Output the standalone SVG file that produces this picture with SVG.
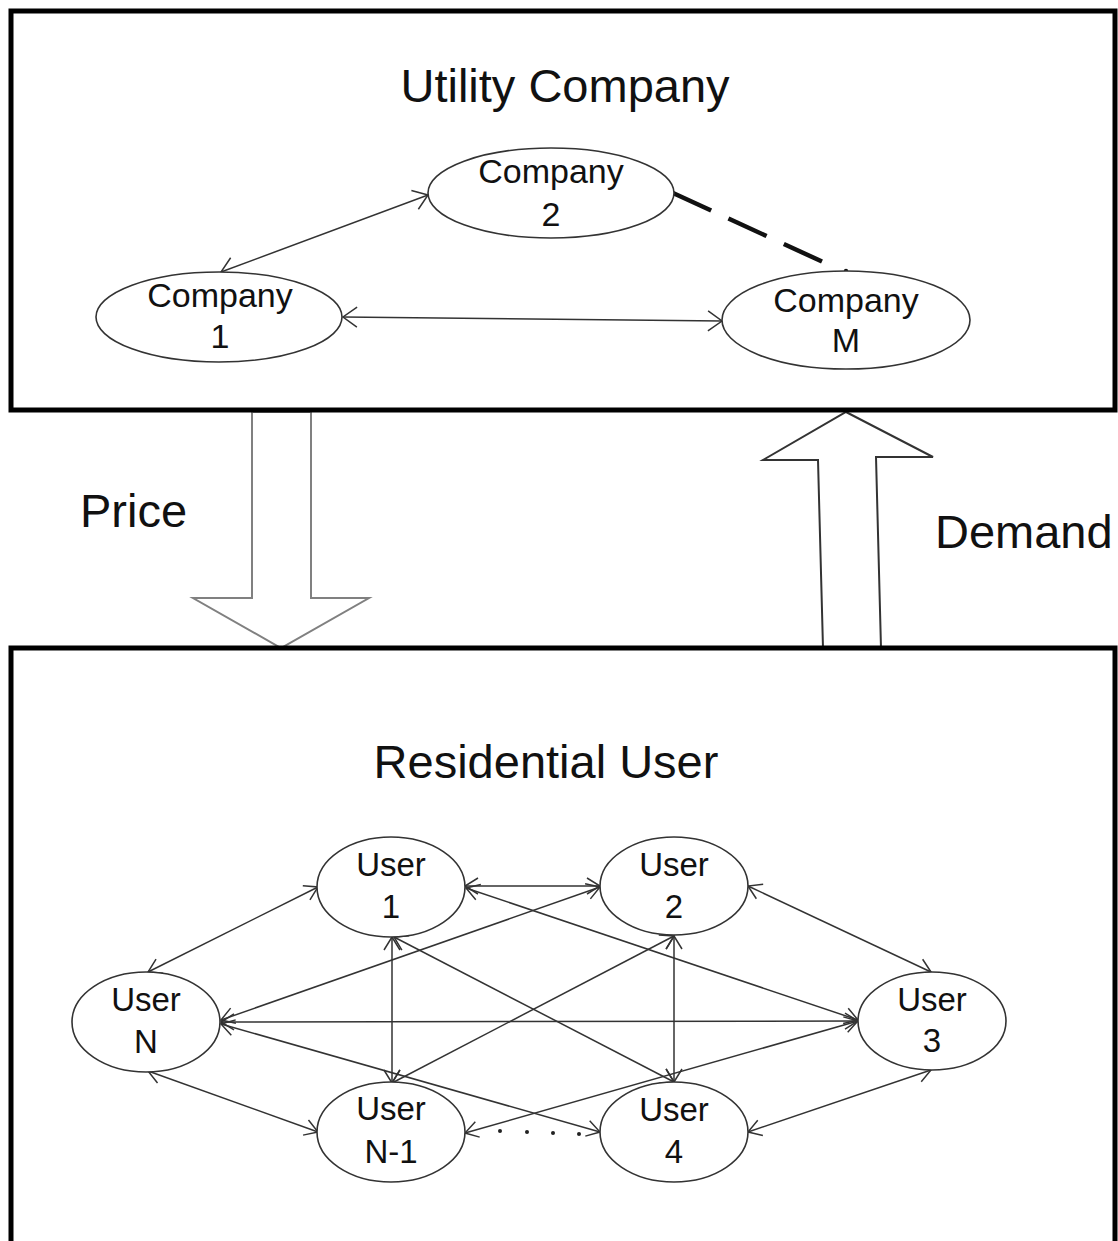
<svg xmlns="http://www.w3.org/2000/svg" width="1118" height="1241" viewBox="0 0 1118 1241">
  <style>
    .frame { fill: none; stroke: #000; stroke-width: 5; }
    .node { fill: #fff; stroke: #333; stroke-width: 1.6; }
    .label { font-family: "Liberation Sans", Arial, sans-serif; fill: #111; text-anchor: middle; }
    .clabel { font-size: 34px; }
    .ulabel { font-size: 33px; }
    .title { font-family: "Liberation Sans", Arial, sans-serif; fill: #111; font-size: 47px; }
    .link { fill: none; stroke: #333; stroke-width: 1.5; }
    .clink { marker-start: url(#headC); marker-end: url(#headC); }
    .ulink { marker-start: url(#headU); marker-end: url(#headU); }
  </style>
  <defs>
    <marker id="headC" markerUnits="userSpaceOnUse" orient="auto-start-reverse" viewBox="-16 -12 18 24" refX="0" refY="0" markerWidth="18" markerHeight="24">
      <path d="M-14,-10 L0,0 L-14,10" fill="none" stroke="#333" stroke-width="1.5"/>
    </marker>
    <marker id="headU" markerUnits="userSpaceOnUse" orient="auto-start-reverse" viewBox="-16 -12 18 24" refX="0" refY="0" markerWidth="18" markerHeight="24">
      <path d="M-13,-8 L0,0 L-13,8" fill="none" stroke="#333" stroke-width="1.5"/>
    </marker>
  </defs>

  <rect width="1118" height="1241" fill="#fff"/>

  <!-- flow arrows between the two layers -->
  <g id="price-arrow">
    <polygon points="252,412 252,598 193,598 281,648 369,598 311,598 311,412" fill="#fff" stroke="#808080" stroke-width="2"/>
  </g>
  <g id="demand-arrow">
    <polygon points="823,648 818,460 763,460 846,412 933,457 876,457 881,648" fill="#fff" stroke="#333" stroke-width="2"/>
  </g>

  <!-- layer frames -->
  <rect id="utility-frame" class="frame" x="11" y="11" width="1104" height="399"/>
  <path id="residential-frame" class="frame" d="M11,1250 V648 H1115 V1250"/>

  <text class="title" x="565" y="102" text-anchor="middle">Utility Company</text>
  <text class="title" x="546" y="778" text-anchor="middle">Residential User</text>
  <text class="title" x="80" y="527">Price</text>
  <text class="title" x="935" y="548">Demand</text>

  <!-- connectors -->
  <g id="connectors">
    <line class="link clink" x1="221" y1="272" x2="428" y2="195"/>
    <line class="link clink" x1="343" y1="317" x2="722" y2="321"/>
    <line x1="673" y1="193" x2="823" y2="262" stroke="#111" stroke-width="4.5" stroke-dasharray="42 19"/>
    <circle cx="846" cy="271" r="2.2" fill="#111"/>

    <line class="link ulink" x1="148" y1="972" x2="318" y2="887"/>
    <line class="link ulink" x1="148" y1="1071" x2="318" y2="1132"/>
    <line class="link ulink" x1="221" y1="1020" x2="600" y2="887"/>
    <line class="link ulink" x1="221" y1="1022" x2="858" y2="1021"/>
    <line class="link ulink" x1="221" y1="1024" x2="600" y2="1132"/>
    <line class="link ulink" x1="465" y1="886" x2="600" y2="886"/>
    <line class="link ulink" x1="466" y1="888" x2="858" y2="1020"/>
    <line class="link ulink" x1="392" y1="937" x2="392" y2="1083"/>
    <line class="link ulink" x1="394" y1="937" x2="674" y2="1082"/>
    <line class="link ulink" x1="674" y1="936" x2="674" y2="1082"/>
    <line class="link ulink" x1="674" y1="936" x2="392" y2="1083"/>
    <line class="link ulink" x1="748" y1="886" x2="931" y2="972"/>
    <line class="link ulink" x1="931" y1="1070" x2="748" y2="1132"/>
    <line class="link ulink" x1="858" y1="1021" x2="465" y2="1133"/>
    <g fill="#222">
      <circle cx="500" cy="1131" r="2"/>
      <circle cx="527" cy="1132" r="2"/>
      <circle cx="553" cy="1133" r="2"/>
      <circle cx="579" cy="1134" r="2"/>
    </g>
  </g>

  <!-- company nodes -->
  <g id="company-1">
    <ellipse class="node" cx="219" cy="317" rx="123" ry="45"/>
    <text class="label clabel" x="220" y="307">Company</text>
    <text class="label clabel" x="220" y="348">1</text>
  </g>
  <g id="company-2">
    <ellipse class="node" cx="551" cy="193" rx="123" ry="45"/>
    <text class="label clabel" x="551" y="183">Company</text>
    <text class="label clabel" x="551" y="226">2</text>
  </g>
  <g id="company-m">
    <ellipse class="node" cx="846" cy="320" rx="124" ry="49"/>
    <text class="label clabel" x="846" y="312">Company</text>
    <text class="label clabel" x="846" y="352">M</text>
  </g>

  <!-- user nodes -->
  <g id="user-1">
    <ellipse class="node" cx="391" cy="887" rx="74" ry="50"/>
    <text class="label ulabel" x="391" y="876">User</text>
    <text class="label ulabel" x="391" y="918">1</text>
  </g>
  <g id="user-2">
    <ellipse class="node" cx="674" cy="886" rx="74" ry="49"/>
    <text class="label ulabel" x="674" y="876">User</text>
    <text class="label ulabel" x="674" y="918">2</text>
  </g>
  <g id="user-3">
    <ellipse class="node" cx="932" cy="1021" rx="74" ry="49"/>
    <text class="label ulabel" x="932" y="1011">User</text>
    <text class="label ulabel" x="932" y="1052">3</text>
  </g>
  <g id="user-4">
    <ellipse class="node" cx="674" cy="1132" rx="74" ry="50"/>
    <text class="label ulabel" x="674" y="1121">User</text>
    <text class="label ulabel" x="674" y="1163">4</text>
  </g>
  <g id="user-n">
    <ellipse class="node" cx="146" cy="1022" rx="74" ry="50"/>
    <text class="label ulabel" x="146" y="1011">User</text>
    <text class="label ulabel" x="146" y="1053">N</text>
  </g>
  <g id="user-n-1">
    <ellipse class="node" cx="391" cy="1132" rx="74" ry="50"/>
    <text class="label ulabel" x="391" y="1120">User</text>
    <text class="label ulabel" x="391" y="1163">N-1</text>
  </g>
</svg>
